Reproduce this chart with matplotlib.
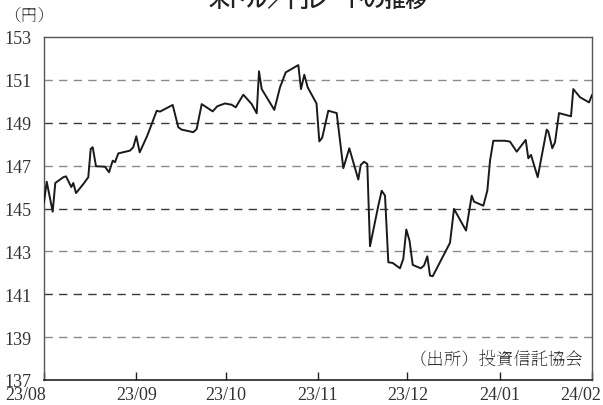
import numpy as np
import matplotlib
matplotlib.use("Agg")
import matplotlib.pyplot as plt
import matplotlib.transforms as mtransforms
from matplotlib import font_manager as fm

_avail = set(f.name for f in fm.fontManager.ttflist)
_mincho = [n for n in ['Noto Serif JP', 'Noto Serif CJK JP', 'Shippori Mincho', 'Zen Old Mincho',
                       'Sawarabi Mincho', 'BIZ UDPMincho'] if n in _avail]
_serif = [n for n in ['Liberation Serif', 'Tinos', 'DejaVu Serif'] if n in _avail]
NUMF = _serif[:1] + _mincho[:1] + ['Noto Sans CJK JP', 'DejaVu Sans']
MINCHO = _mincho[:1] + ['Noto Sans CJK JP', 'DejaVu Sans']
GOTHIC = [n for n in ['BIZ UDPGothic'] if n in _avail] + ['Noto Sans CJK JP', 'DejaVu Sans']
plt.rcParams['font.family'] = NUMF

# Data: day offsets from 2023-08-01 and USD/JPY rate
start = np.datetime64('2023-08-01T00:00')
day_offsets = [0, 0.91, 2.92, 3.79, 6.48, 7.39, 8.49, 9.17, 9.84, 10.75, 13.2, 14.87,
               15.68, 16.35, 17.46, 20.48, 21.83, 23.07, 23.84, 24.95, 28.88, 29.98,
               30.99, 32.13, 34.69, 36.16, 37.84, 38.95, 43.21, 45.09, 46.23, 50.13,
               51.27, 52.95, 56.64, 58.19, 60.77, 63.02, 64.37, 66.92, 69.74, 71.42,
               72.19, 73.1, 77.33, 79.24, 81.16, 85.39, 86.29, 87.4, 88.54, 91.5,
               92.44, 93.41, 95.46, 98.28, 100.5, 102.51, 105.53, 106.34, 107.45,
               108.55, 109.46, 112.25, 113.39, 114.5, 115.61, 117.08, 119.53, 120.64,
               121.65, 122.73, 123.8, 126.49, 127.6, 128.7, 129.61, 130.52, 136.32,
               137.67, 141.7, 143.61, 144.38, 147.51, 148.85, 149.76, 150.86, 154.79,
               156.47, 158.72, 161.74, 162.62, 163.52, 165.77, 168.79, 169.33, 170.67,
               171.58, 172.92, 176.95, 177.72, 179.97, 183.0, 184.0]
rates = [145.29, 146.25, 144.85, 146.19, 146.46, 146.5, 146.19, 146.0, 146.19, 145.72,
         146.14, 146.46, 147.78, 147.86, 146.97, 146.95, 146.69, 147.23, 147.16, 147.57,
         147.7, 147.86, 148.37, 147.62, 148.4, 148.94, 149.56, 149.52, 149.83, 148.79,
         148.68, 148.56, 148.71, 149.87, 149.53, 149.77, 149.9, 149.84, 149.72, 150.31,
         149.87, 149.44, 151.4, 150.57, 149.6, 150.65, 151.35, 151.69, 150.57, 151.24,
         150.65, 149.9, 148.13, 148.3, 149.56, 149.45, 146.88, 147.81, 146.35, 147.03,
         147.18, 147.08, 143.24, 145.13, 145.83, 145.6, 142.49, 142.46, 142.21, 142.65,
         144.02, 143.5, 142.37, 142.21, 142.34, 142.77, 141.87, 141.84, 143.4, 144.98,
         143.97, 145.6, 145.32, 145.13, 145.83, 147.23, 148.16, 148.16, 148.12, 147.65,
         148.2, 147.34, 147.5, 146.46, 148.68, 148.59, 147.81, 148.09, 149.45, 149.3,
         150.57, 150.19, 149.95, 150.29]

tick_dates = ['2023-08-01', '2023-09-01', '2023-10-01', '2023-11-01', '2023-12-01',
              '2024-01-01', '2024-02-01']
tick_labels = ['23/08', '23/09', '23/10', '23/11', '23/12', '24/01', '24/02']
y_ticks = [137, 139, 141, 143, 145, 147, 149, 151, 153]
grid_levels = [139, 141, 143, 145, 147, 149, 151]

title = '米ドル／円レートの推移'
unit_label = '（円）'
source = '（出所）投資信託協会'

dates = start + (np.array(day_offsets) * 24 * 60).astype('timedelta64[m]')
xt = [np.datetime64(d) for d in tick_dates]

fig = plt.figure(figsize=(6.03, 4.06), dpi=100)
ax = fig.add_axes([44/603, 1-381/406, (592-44)/603, (381-38)/406])

for i, g in enumerate(grid_levels):
    col = '#8a8a8a' if i % 2 == 0 else '#3a3a3a'
    ax.axhline(g, color=col, lw=1.0, linestyle=(0, (6, 4.5)), zorder=1)

ax.plot(dates, rates, color='#1a1a1a', lw=1.4, zorder=3)

ax.set_xlim(xt[0], xt[-1])
ax.set_ylim(137, 153)
ax.set_yticks(y_ticks)
ax.set_yticklabels([str(v) for v in y_ticks], fontsize=13, color='#333333')
ax.set_xticks(xt)
ax.set_xticklabels(tick_labels, fontsize=13, color='#333333')
ax.tick_params(axis='x', direction='in', length=6, width=1, pad=4.5, color='#222222')
ax.tick_params(axis='y', length=0, pad=9)

xlabels = ax.get_xticklabels()
xlabels[0].set_ha('right')
xlabels[0].set_transform(xlabels[0].get_transform() +
                         mtransforms.ScaledTranslation(2/100, 0, fig.dpi_scale_trans))
xlabels[-1].set_ha('right')
xlabels[-1].set_transform(xlabels[-1].get_transform() +
                          mtransforms.ScaledTranslation(9/100, 0, fig.dpi_scale_trans))

for s in ['top', 'right', 'left']:
    ax.spines[s].set_color('#555555')
    ax.spines[s].set_linewidth(1.0)
ax.spines['bottom'].set_color('#222222')
ax.spines['bottom'].set_linewidth(1.2)

fig.text(318/603, 1 - 7/406, title, ha='center', va='baseline', fontsize=15,
         fontweight='bold', family=GOTHIC, color='#222222')
fig.text(4/603, 1 - 21/406, unit_label, ha='left', va='baseline', fontsize=12,
         family=MINCHO, color='#333333')
ax.text(0.985, 0.044, source, transform=ax.transAxes, ha='right', va='baseline',
        fontsize=12.5, family=MINCHO, color='#333333')

fig.savefig('out.png', dpi=100)
